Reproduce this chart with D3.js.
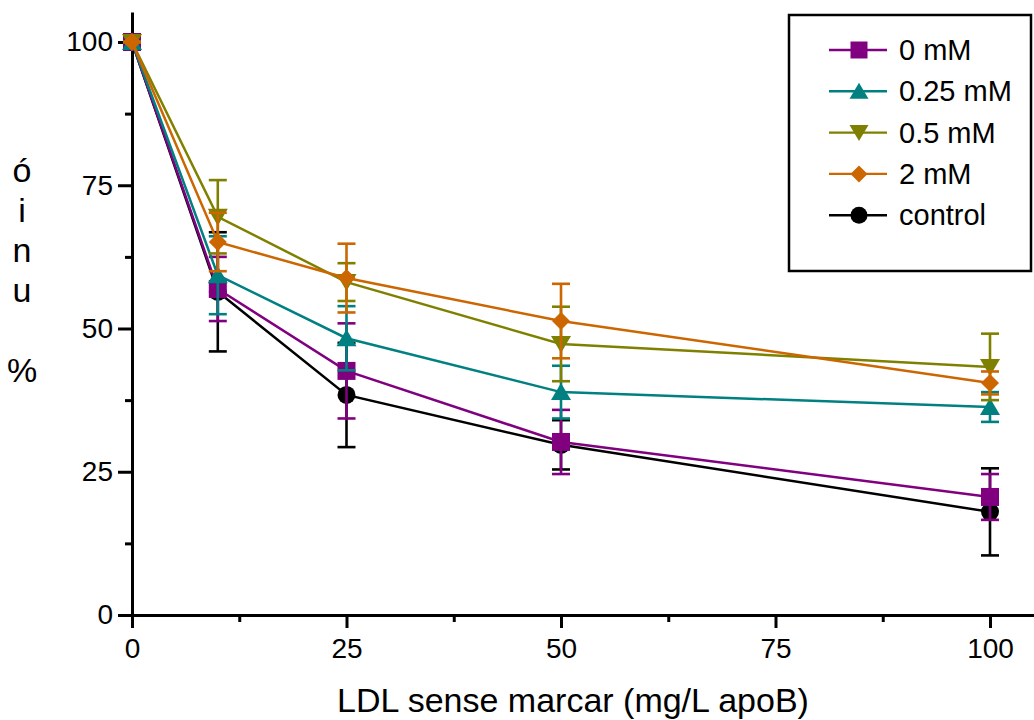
<!DOCTYPE html>
<html lang="ca">
<head>
  <meta charset="UTF-8">
  <title>LDL</title>
  <style>
    body { margin: 0; background: #fff; }
    svg { display: block; font-family: "Liberation Sans", Arial, sans-serif; }
    .axis path, .axis line { stroke: #000; stroke-width: 3px; }
    .axis text { fill: #000; font-size: 28px; }
  </style>
</head>
<body>
<svg id="chart" width="1034" height="720"></svg>

<script src="https://cdn.jsdelivr.net/npm/d3@7"></script>
<script>
  "use strict";

  var
    doses = [0, 10, 25, 50, 100],
    seriesNames = ["control", "0 mM", "0.25 mM", "0.5 mM", "2 mM"],
    legendOrder = ["0 mM", "0.25 mM", "0.5 mM", "2 mM", "control"],
    vals0 = [100, 56.9, 42.6, 30.2, 20.6],
    err0 = [0, 5.6, 8.3, 5.6, 4.0],
    vals025 = [100, 59.3, 48.3, 38.9, 36.3],
    err025 = [0, 6.8, 5.6, 4.6, 2.6],
    vals05 = [100, 69.5, 58.1, 47.3, 43.3],
    err05 = [0, 6.4, 3.3, 6.5, 5.8],
    vals2 = [100, 65.1, 58.8, 51.3, 40.5],
    err2 = [0, 5.1, 6.0, 6.5, 2.0],
    valsCtl = [100, 56.4, 38.4, 29.7, 18.0],
    errCtl = [0, 10.4, 9.1, 4.3, 7.6],
    xTicks = [0, 25, 50, 75, 100],
    xMinor = [12.5, 37.5, 62.5, 87.5],
    yTicks = [0, 25, 50, 75, 100],
    yMinor = [12.5, 37.5, 62.5, 87.5],
    yLabelChars = ["ó", "i", "n", "u", "", "%"],
    xTitle = "LDL sense marcar (mg/L apoB)";

  var W = 1034, H = 720;
  var svg = d3.select("#chart");

  var x = d3.scaleLinear().domain([0, 100]).range([132, 990]);
  var y = d3.scaleLinear().domain([0, 100]).range([615, 42]);
  // axes run a bit past the last tick
  var xAx = x.copy().domain([0, x.invert(W)]).range([132, W]);
  var yAx = y.copy().domain([0, y.invert(12)]).range([615, 12]);

  var series = [
    {name: "control", vals: valsCtl, err: errCtl, color: "#000000", shape: "circle"},
    {name: "0 mM", vals: vals0, err: err0, color: "#800080", shape: "square"},
    {name: "0.25 mM", vals: vals025, err: err025, color: "#008080", shape: "up"},
    {name: "0.5 mM", vals: vals05, err: err05, color: "#808000", shape: "down"},
    {name: "2 mM", vals: vals2, err: err2, color: "#CC6600", shape: "diamond"}
  ];

  function markerPath(shape, s) {
    var h = s / 2;
    if (shape === "square") return "M" + (-h) + "," + (-h) + "h" + s + "v" + s + "h" + (-s) + "Z";
    if (shape === "up") return "M0," + (-h) + "L" + (h + 1) + "," + (h - 1) + "L" + (-h - 1) + "," + (h - 1) + "Z";
    if (shape === "down") return "M0," + h + "L" + (h + 1) + "," + (-h + 1) + "L" + (-h - 1) + "," + (-h + 1) + "Z";
    if (shape === "diamond") return "M0," + (-h) + "L" + h + ",0L0," + h + "L" + (-h) + ",0Z";
    return d3.symbol(d3.symbolCircle, Math.PI * h * h)();
  }

  // x axis
  svg.append("g").attr("class", "axis")
    .attr("transform", "translate(0," + y(0) + ")")
    .call(d3.axisBottom(xAx).tickValues(xTicks).tickSize(13).tickSizeOuter(0).tickPadding(8))
    .call(function(g){ g.selectAll("text").attr("dy", "0.78em"); });
  svg.append("g").attr("class", "axis")
    .attr("transform", "translate(0," + y(0) + ")")
    .call(d3.axisBottom(xAx).tickValues(xMinor).tickSize(7).tickSizeOuter(0).tickFormat(""))
    .call(function(g){ g.select(".domain").remove(); });

  // y axis
  svg.append("g").attr("class", "axis")
    .attr("transform", "translate(" + x(0) + ",0)")
    .call(d3.axisLeft(yAx).tickValues(yTicks).tickSize(14).tickSizeOuter(0).tickPadding(5));
  svg.append("g").attr("class", "axis")
    .attr("transform", "translate(" + x(0) + ",0)")
    .call(d3.axisLeft(yAx).tickValues(yMinor).tickSize(7).tickSizeOuter(0).tickFormat(""))
    .call(function(g){ g.select(".domain").remove(); });

  // axis titles
  svg.append("text")
    .attr("x", (x(0) + x(100)) / 2 + 12)
    .attr("y", 712)
    .attr("text-anchor", "middle")
    .style("font-size", "34px")
    .text(xTitle);

  svg.append("g").selectAll("text")
    .data(yLabelChars)
    .enter()
    .append("text")
    .attr("x", 22)
    .attr("y", function(d, i){ return 182 + i * 40; })
    .attr("text-anchor", "middle")
    .style("font-size", "34px")
    .text(function(d){ return d; });

  // series
  var line = d3.line()
    .x(function(d){ return x(d.x); })
    .y(function(d){ return y(d.v); });

  series.forEach(function(s) {
    var pts = doses.map(function(dx, i){ return {x: dx, v: s.vals[i], e: s.err[i]}; });
    var g = svg.append("g");

    var eb = g.selectAll(".eb").data(pts).enter().append("g")
      .attr("stroke", s.color).attr("stroke-width", 2.6);
    eb.append("line")
      .attr("x1", function(d){ return x(d.x); })
      .attr("x2", function(d){ return x(d.x); })
      .attr("y1", function(d){ return y(d.v + d.e); })
      .attr("y2", function(d){ return y(d.v - d.e); });
    [1, -1].forEach(function(sg) {
      eb.append("line")
        .attr("x1", function(d){ return x(d.x) - 9; })
        .attr("x2", function(d){ return x(d.x) + 9; })
        .attr("y1", function(d){ return y(d.v + sg * d.e); })
        .attr("y2", function(d){ return y(d.v + sg * d.e); });
    });

    g.append("path")
      .datum(pts)
      .attr("fill", "none")
      .attr("stroke", s.color)
      .attr("stroke-width", 2.5)
      .attr("d", line);

    g.selectAll(".mk").data(pts).enter().append("path")
      .attr("transform", function(d){ return "translate(" + x(d.x) + "," + y(d.v) + ")"; })
      .attr("d", markerPath(s.shape, 18))
      .attr("fill", s.color);
  });

  // legend
  var leg = svg.append("g");
  leg.append("rect")
    .attr("x", 789).attr("y", 15)
    .attr("width", 242).attr("height", 256)
    .attr("fill", "#fff").attr("stroke", "#000").attr("stroke-width", 2.5);

  var items = leg.selectAll(".li")
    .data(legendOrder.map(function(n){ return series.filter(function(s){ return s.name === n; })[0]; }))
    .enter().append("g")
    .attr("transform", function(d, i){ return "translate(0," + (50 + i * 41.3) + ")"; });
  items.append("line")
    .attr("x1", 829).attr("x2", 887)
    .attr("stroke", function(d){ return d.color; })
    .attr("stroke-width", 2.4);
  items.append("path")
    .attr("transform", "translate(859,0)")
    .attr("d", function(d){ return markerPath(d.shape, 17); })
    .attr("fill", function(d){ return d.color; });
  items.append("text")
    .attr("x", 899).attr("y", 10)
    .style("font-size", "29px")
    .text(function(d){ return d.name; });
</script>
</body>
</html>
